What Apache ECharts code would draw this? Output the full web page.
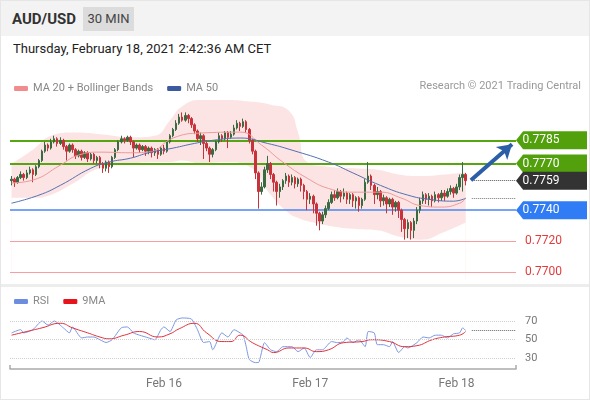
<!DOCTYPE html>
<html>
<head>
<meta charset="utf-8">
<script src="https://cdn.jsdelivr.net/npm/echarts@6/dist/echarts.min.js"></script>
<style>
  html, body { margin: 0; padding: 0; background: #fff; font-family: Roboto, Arial, sans-serif; }
  #wrap { position: relative; width: 588px; height: 398px; border: 1px solid #e6e6e6; overflow: hidden; }
  #head { position: absolute; left: 0; top: 0; width: 588px; height: 35px; background: #f3f3f3; }
  #sym { position: absolute; left: 11px; top: 9px; font-size: 15px; font-weight: bold; color: #333; }
  #tf { position: absolute; left: 82px; top: 6px; width: 51px; height: 24px; line-height: 24px; background: #dcdcdc; color: #444; font-size: 13px; text-align: center; }
  #date { position: absolute; left: 12px; top: 40px; font-size: 13px; color: #222; }
  #sep { position: absolute; left: 0; top: 283px; width: 588px; height: 3px; background: #ededed; }
  #chart { position: absolute; left: -1px; top: -1px; width: 590px; height: 400px; }
</style>
</head>
<body>
<div id="wrap">
  <div id="head"><span id="sym">AUD/USD</span><span id="tf">30 MIN</span></div>
  <div id="date">Thursday, February 18, 2021 2:42:36 AM CET</div>
  <div id="sep"></div>
  <div id="chart"></div>
</div>
<script>
// prices are in pips above 0.7700
const firstOpen = 59
const closes = [60,58,61,63,61,64,66,63,68,72, 78,82,80,84,86,83,85,81,78,82,
  79,75,78,74,77,73,76,72,74,70, 67,71,68,74,79,84,86,85,87,84,
  80,82,79,81,78,80,77,79,76,80, 78,84,88,92,96,100,98,101,99,95,
  91,86,88,83,80,76,79,84,88,86, 90,87,89,93,96,94,97,92,85,78,
  64,52,55,66,70,63,58,52,55,59, 62,58,61,57,60,56,52,47,49,44,
  38,33,37,41,45,50,48,52,49,51, 47,50,46,48,43,47,58,62,56,50,
  52,46,48,44,47,42,45,40,34,28, 32,27,33,40,46,50,47,49,46,50,
  48,51,49,52,54,51,55,61,63,59]
const highs = [62,61,62,65,64,66,68,67,69,73, 79,84,83,86,88,87,87,86,82,83,
  83,80,79,79,78,78,77,77,75,75, 71,72,72,75,80,85,88,87,88,88,
  85,83,83,82,82,81,81,80,80,81, 82,85,89,93,98,102,103,103,102,100,
  96,92,90,89,85,81,80,85,90,89, 91,91,91,95,98,97,99,98,93,86,
  79,65,58,68,75,71,64,59,57,60, 64,63,63,62,61,61,57,53,51,50,
  45,39,39,43,47,52,53,54,53,54, 52,51,51,49,49,48,60,71,63,57,
  55,53,50,49,48,48,46,46,41,35, 34,33,35,42,48,52,51,51,50,52,
  51,53,53,54,56,55,57,63,71,64]
const lows = [56,55,57,60,59,60,63,58,62,67, 71,77,78,79,83,81,82,79,72,77,
  77,73,74,72,73,71,72,70,70,67, 64,65,64,67,73,78,83,83,84,82,
  74,79,77,78,75,76,74,75,73,75, 76,77,83,87,91,95,97,97,96,93,
  89,84,82,73,78,71,74,78,83,84, 85,80,86,88,92,91,93,90,83,76,
  60,41,50,54,64,60,52,43,48,53, 57,55,56,54,55,52,47,40,44,38,
  30,27,31,35,40,44,46,47,45,47, 44,44,42,41,39,41,46,57,53,44,
  47,42,43,38,42,37,39,35,26,21, 22,21,22,31,38,44,44,43,42,45,
  45,46,46,48,50,48,50,53,52,56]

// [candle index, pips]
const ma20 = [[0,57.5],[7,59.4],[16,69],[22,75.5],[29,77.4],[39,77],[45,77.4],[53,86.5],[62,89.7],
  [75,90.3],[82,82],[89,71],[97,60.6],[104,54],[112,51.6],[121,51.6],[128,47.7],[134,43],[141,42],[147,44.5],[149,47.7]]
const ma50 = [[0,44.5],[9,49.7],[16,56],[26,67],[32,71],[39,73.5],[45,77],[53,80],[60,83],[66,85],
  [75,86.5],[84,83],[92,78.7],[104,71],[112,64],[121,56],[130,49.7],[137,47],[145,45.8],[149,47.7]]
const bbIdx   = [0, 7, 13, 20, 29, 40, 47, 52, 56, 62, 70, 78, 85, 91, 94, 97, 104, 112, 120, 127, 134, 142, 149]
const bbUpper = [70,79, 88, 90, 89, 87, 88, 98,107,111,111,110,108,104, 90, 71, 68, 67, 66, 63, 62, 63, 64.5]
const bbLower = [48,48, 50, 57, 67, 70, 71, 71, 72, 70, 71, 68, 50, 38, 35, 33, 30, 28, 27, 23, 21, 26, 32]

// [candle index, value]
const rsi = [[0,57.5],[3,61],[4,57.5],[7,61],[10,70.5],[12,66],[14,70.5],[17,63],[19,57.5],[20,64],
  [23,52],[25,53],[27,53],[29,50],[31,47],[33,50],[36,63],[38,64],[40,57.5],[42,55],[45,52],[47,50],
  [49,61],[50,64],[52,59],[54,71.6],[56,73.8],[59,72.7],[61,61],[63,47],[65,48],[66,39],[69,57.5],
  [71,53],[73,61],[75,57.5],[76,55],[77,42.4],[78,28.4],[80,25],[81,25],[83,46.8],[85,39],[87,37],
  [89,42.4],[92,42.4],[94,37],[96,41],[98,30.5],[100,39],[102,39],[105,48],[107,46.8],[109,48],
  [110,52],[112,46.8],[114,50],[116,42.4],[117,59],[119,57.5],[120,44.6],[122,44.6],[124,42.4],
  [125,48],[127,36],[129,42.4],[130,41],[133,46.8],[135,53],[137,52],[139,55],[141,55],[143,52],
  [145,56.5],[147,57.5],[148,63],[149,60]]
const rsiMa = [[0,55],[5,59],[10,63],[16,68],[20,63],[25,57.5],[29,53],[32,51],[37,55],[42,59],
  [48,53],[52,56.5],[55,62],[60,68],[64,57.5],[69,48],[72,48],[75,55],[79,46.8],[84,39],[86,36],
  [91,41],[96,41],[100,37],[104,39],[109,46.8],[115,48],[118,50],[124,48],[129,42.4],[133,43.5],
  [138,50],[142,53],[147,55],[149,59]]
const rsiLevels = [30, 50, 70]

const levelValues = [0.7785, 0.7770, 0.7740, 0.7720, 0.7700]
const levelRoles  = ['R2', 'R1', 'S1', 'S2', 'S3']
const arrowFrom = [150.7, 0.77593]
const arrowTo   = [164.2, 0.77825]

const slotCount = 166
const dayIdx = [50, 98, 146]
const dayNames = ['Feb 16', 'Feb 17', 'Feb 18']

const FONT = 'Roboto, Arial, sans-serif'
const toPrice = (p) => +(0.77 + p / 10000).toFixed(5)
const slots = Array.from({ length: slotCount }, (_, i) => String(i))
const xMax = slotCount - 0.5

const candles = closes.map((c, i) => [
  toPrice(i ? closes[i - 1] : firstOpen), toPrice(c), toPrice(lows[i]), toPrice(highs[i]),
])
const lastPrice = toPrice(closes[closes.length - 1])
const lastIdx = closes.length - 1
const maLast = toPrice(ma50[ma50.length - 1][1])
const rsiLast = rsi[rsi.length - 1][1]

const roleStyle = {
  R2: { color: '#58a512', width: 2, tag: '#52a10c' },
  R1: { color: '#58a512', width: 2, tag: '#52a10c' },
  S1: { color: '#4a86f2', width: 1.5, tag: '#2f7cf4' },
  S2: { color: '#f5a0a0', width: 1, tag: null },
  S3: { color: '#f5a0a0', width: 1, tag: null },
}
const tagPath = 'path://M0,8 L7,0 L70,0 L70,16 L7,16 Z'
const tagPoint = (v, color) => ({
  coord: [xMax, v],
  value: v.toFixed(4),
  itemStyle: { color },
  label: { color: '#fff', fontSize: 12, fontFamily: FONT },
})

const chart = echarts.init(document.getElementById('chart'))
chart.setOption({
  animation: false,
  backgroundColor: 'transparent',
  textStyle: { fontFamily: FONT },
  title: {
    text: 'Research © 2021 Trading Central',
    right: 4, top: 76,
    textStyle: { fontSize: 11, color: '#999', fontWeight: 'normal', fontFamily: FONT },
  },
  legend: [
    {
      data: ['MA 20 + Bollinger Bands', 'MA 50'],
      left: 9, top: 78, icon: 'roundRect', itemWidth: 14, itemHeight: 5, itemGap: 14,
      textStyle: { color: '#888', fontSize: 11, fontFamily: FONT },
    },
    {
      data: ['RSI', '9MA'],
      left: 9, top: 291, icon: 'roundRect', itemWidth: 14, itemHeight: 5, itemGap: 14,
      textStyle: { color: '#888', fontSize: 11, fontFamily: FONT },
    },
  ],
  grid: [
    { left: 10, right: 74, top: 100, height: 180 },
    { left: 10, right: 74, top: 305, height: 64 },
  ],
  xAxis: [
    { type: 'category', gridIndex: 0, data: slots, show: false },
    { type: 'value', gridIndex: 0, min: -0.5, max: xMax, show: false },
    {
      type: 'category', gridIndex: 1, data: slots,
      axisLine: { lineStyle: { color: '#aaa', width: 1.5 } },
      axisTick: { show: true, inside: true, length: 4, interval: (i) => i === 0, lineStyle: { color: '#aaa', width: 1.5 } },
      axisLabel: {
        interval: (i) => dayIdx.includes(i),
        formatter: (v, i) => dayNames[dayIdx.indexOf(i)] || '',
        color: '#777', fontSize: 12, margin: 9, fontFamily: FONT,
      },
    },
    { type: 'value', gridIndex: 1, min: -0.5, max: xMax, show: false },
  ],
  yAxis: [
    { type: 'value', gridIndex: 0, min: 0.7695, max: 0.7811, show: false },
    { type: 'value', gridIndex: 1, min: 18, max: 88, show: false },
  ],
  series: [
    {
      name: 'bbUpper', type: 'line', xAxisIndex: 1, yAxisIndex: 0, smooth: true,
      symbol: 'none', silent: true, lineStyle: { opacity: 0 }, z: 1,
      areaStyle: { color: '#fde4e4', opacity: 1 },
      data: bbIdx.map((x, i) => [x, toPrice(bbUpper[i])]),
    },
    {
      name: 'bbLower', type: 'line', xAxisIndex: 1, yAxisIndex: 0, smooth: true,
      symbol: 'none', silent: true, lineStyle: { opacity: 0 }, z: 2,
      areaStyle: { color: '#ffffff', opacity: 1 },
      data: bbIdx.map((x, i) => [x, toPrice(bbLower[i])]),
    },
    {
      name: 'levels', type: 'line', xAxisIndex: 1, yAxisIndex: 0, data: [], z: 4,
      markLine: {
        silent: true, symbol: ['none', 'none'], precision: 5,
        data: levelValues.map((v, i) => {
          const s = roleStyle[levelRoles[i]]
          return {
            yAxis: v,
            lineStyle: { color: s.color, width: s.width, type: 'solid' },
            label: s.tag
              ? { show: false }
              : { show: true, position: 'end', distance: 9, formatter: v.toFixed(4), color: '#e33b3b', fontSize: 12, fontFamily: FONT },
          }
        }).concat([
          [{ coord: [lastIdx + 2, lastPrice], lineStyle: { color: '#555', type: 'dotted', width: 1 }, label: { show: false } },
           { coord: [xMax, lastPrice] }],
          [{ coord: [lastIdx + 2, maLast], lineStyle: { color: '#777', type: 'dotted', width: 1 }, label: { show: false } },
           { coord: [xMax, maLast] }],
        ]),
      },
      markPoint: {
        silent: true, symbol: tagPath, symbolSize: [71, 18], symbolOffset: [35.5, 0], precision: 5,
        label: { show: true, position: 'insideLeft', distance: 6.5, formatter: '{c}' },
        data: levelValues
          .map((v, i) => roleStyle[levelRoles[i]].tag ? tagPoint(v, roleStyle[levelRoles[i]].tag) : null)
          .filter(Boolean)
          .concat([tagPoint(lastPrice, '#333333')]),
      },
    },
    {
      name: 'price', type: 'candlestick', xAxisIndex: 0, yAxisIndex: 0, z: 5,
      barWidth: 2,
      itemStyle: { color: '#3a6a40', color0: '#c8323a', borderColor: '#3a6a40', borderColor0: '#c8323a', borderWidth: 1 },
      data: candles,
    },
    {
      name: 'MA 20 + Bollinger Bands', type: 'line', xAxisIndex: 1, yAxisIndex: 0, smooth: true, z: 6,
      symbol: 'none', color: '#f28c8c', lineStyle: { color: '#ec9a9a', width: 1 },
      data: ma20.map(([x, p]) => [x, toPrice(p)]),
    },
    {
      name: 'MA 50', type: 'line', xAxisIndex: 1, yAxisIndex: 0, smooth: true, z: 6,
      symbol: 'none', color: '#3b5aa0', lineStyle: { color: '#5470b0', width: 1 },
      data: ma50.map(([x, p]) => [x, toPrice(p)]),
    },
    {
      name: 'arrow', type: 'line', xAxisIndex: 1, yAxisIndex: 0, data: [], z: 7,
      markLine: {
        silent: true, symbol: ['none', 'arrow'], symbolSize: [13, 14], precision: 5,
        lineStyle: { color: '#2c5ea8', width: 4, type: 'solid' },
        label: { show: false },
        data: [[{ coord: arrowFrom }, { coord: arrowTo }]],
      },
    },
    {
      name: 'RSI', type: 'line', xAxisIndex: 3, yAxisIndex: 1, symbol: 'none', smooth: 0.2,
      color: '#6d8de0', lineStyle: { color: '#7b97e3', width: 1 },
      data: rsi,
      markLine: {
        silent: true, symbol: ['none', 'none'],
        data: rsiLevels.map((v) => ({
          yAxis: v,
          lineStyle: { color: '#cfcfcf', type: 'dotted', width: 1 },
          label: { show: true, position: 'end', distance: 9, formatter: String(v), color: '#777', fontSize: 11, fontFamily: FONT },
        })).concat([
          [{ coord: [lastIdx + 2, rsiLast], lineStyle: { color: '#666', type: 'dotted', width: 1 }, label: { show: false } },
           { coord: [xMax, rsiLast] }],
        ]),
      },
    },
    {
      name: '9MA', type: 'line', xAxisIndex: 3, yAxisIndex: 1, symbol: 'none', smooth: true,
      color: '#e8141c', lineStyle: { color: '#e0303a', width: 1 },
      data: rsiMa,
    },
  ],
})
</script>
</body>
</html>
